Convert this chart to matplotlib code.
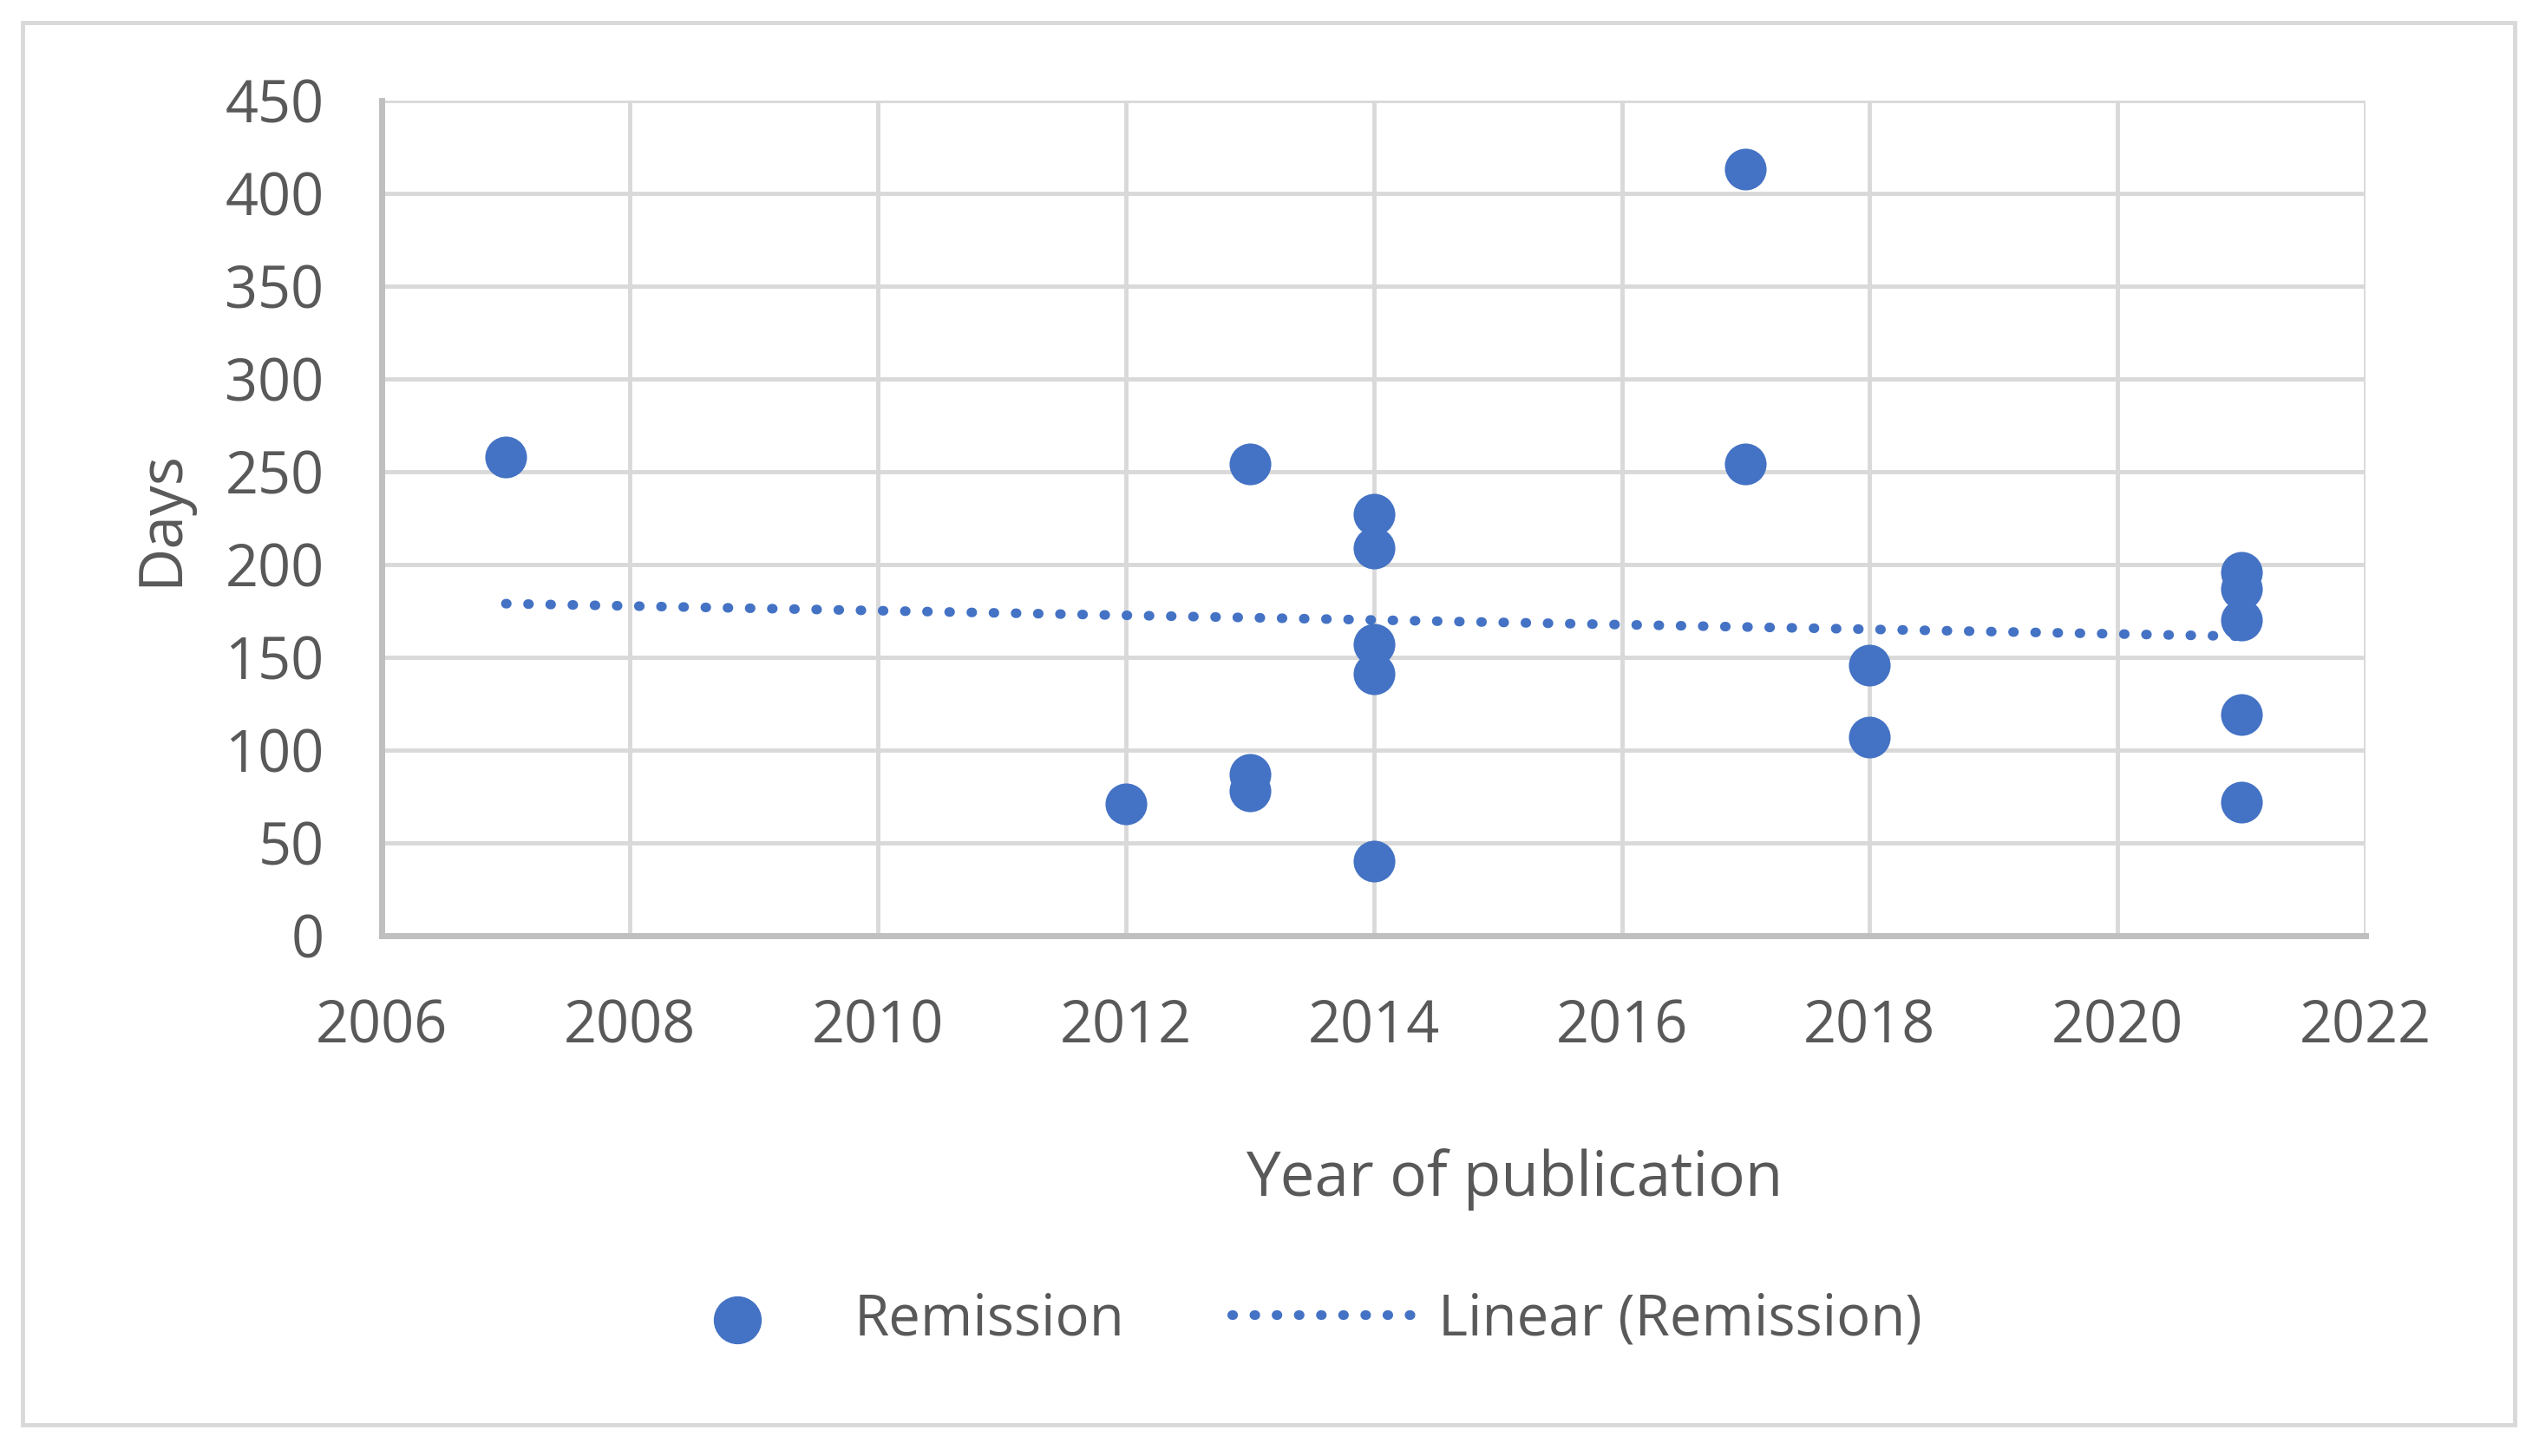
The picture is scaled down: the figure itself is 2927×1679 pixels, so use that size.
import numpy as np
import matplotlib
matplotlib.use("Agg")
import matplotlib.pyplot as plt
from matplotlib.patches import Rectangle

# data
years = [2007, 2012, 2013, 2013, 2013, 2014, 2014, 2014, 2014, 2014,
         2017, 2017, 2018, 2018, 2021, 2021, 2021, 2021, 2021]
days = [258, 71, 254, 87, 78, 227, 209, 157, 141, 40,
        413, 254, 146, 107, 196, 187, 170, 119, 72]
y_ticks = [0, 50, 100, 150, 200, 250, 300, 350, 400, 450]
x_ticks = [2006, 2008, 2010, 2012, 2014, 2016, 2018, 2020, 2022]

blue = "#4472C4"
text_col = "#595959"
plt.rcParams['font.family'] = ['Open Sans', 'DejaVu Sans']

fig = plt.figure(figsize=(29.27, 16.79), dpi=100)
ax = fig.add_axes([0.1504, 0.3573, 0.7813, 0.5737])

# outer chart border
fig.patches.append(Rectangle((0.0089, 0.0214), 0.9815, 0.9631, transform=fig.transFigure,
                             fill=False, edgecolor="#D9D9D9", linewidth=3.5, zorder=0))

ax.scatter(years, days, s=1200, color=blue, linewidths=0, zorder=3, label="Remission")

# linear trendline
coef = np.polyfit(years, days, 1)
xs = np.array([min(years), max(years)])
ax.plot(xs, np.polyval(coef, xs), color=blue, linewidth=8, linestyle=(0, (0.1, 2.2)),
        dash_capstyle="round", zorder=2, label="Linear (Remission)")

ax.set_xlim(2006, 2022)
ax.set_ylim(0, 450)
ax.set_xticks(x_ticks)
ax.set_yticks(y_ticks)
ax.grid(True, color="#D9D9D9", linewidth=3.5, zorder=0)
ax.set_axisbelow(True)
for s in ["top", "right"]:
    ax.spines[s].set_visible(False)
for s in ["left", "bottom"]:
    ax.spines[s].set_color("#BFBFBF")
    ax.spines[s].set_linewidth(5)
ax.tick_params(length=0, labelsize=48, labelcolor=text_col)
ax.tick_params(axis="x", pad=52)
ax.tick_params(axis="y", pad=48)

ax.set_xlabel("Year of publication", fontsize=51, color=text_col)
ax.xaxis.set_label_coords(0.571, -0.292)
ax.xaxis.label.set_va("center")
ax.set_ylabel("Days", fontsize=50, color=text_col)
ax.yaxis.set_label_coords(-0.111, 0.5)
ax.yaxis.label.set_va("center")

fig.legend(loc="center", bbox_to_anchor=(0.506, 0.0934), ncol=2, frameon=False,
           fontsize=47, labelcolor=text_col, handlelength=3.2, handletextpad=0.45,
           columnspacing=1.9, scatterpoints=1, markerscale=1.15)

fig.savefig("out.png", dpi=100, facecolor="white")
